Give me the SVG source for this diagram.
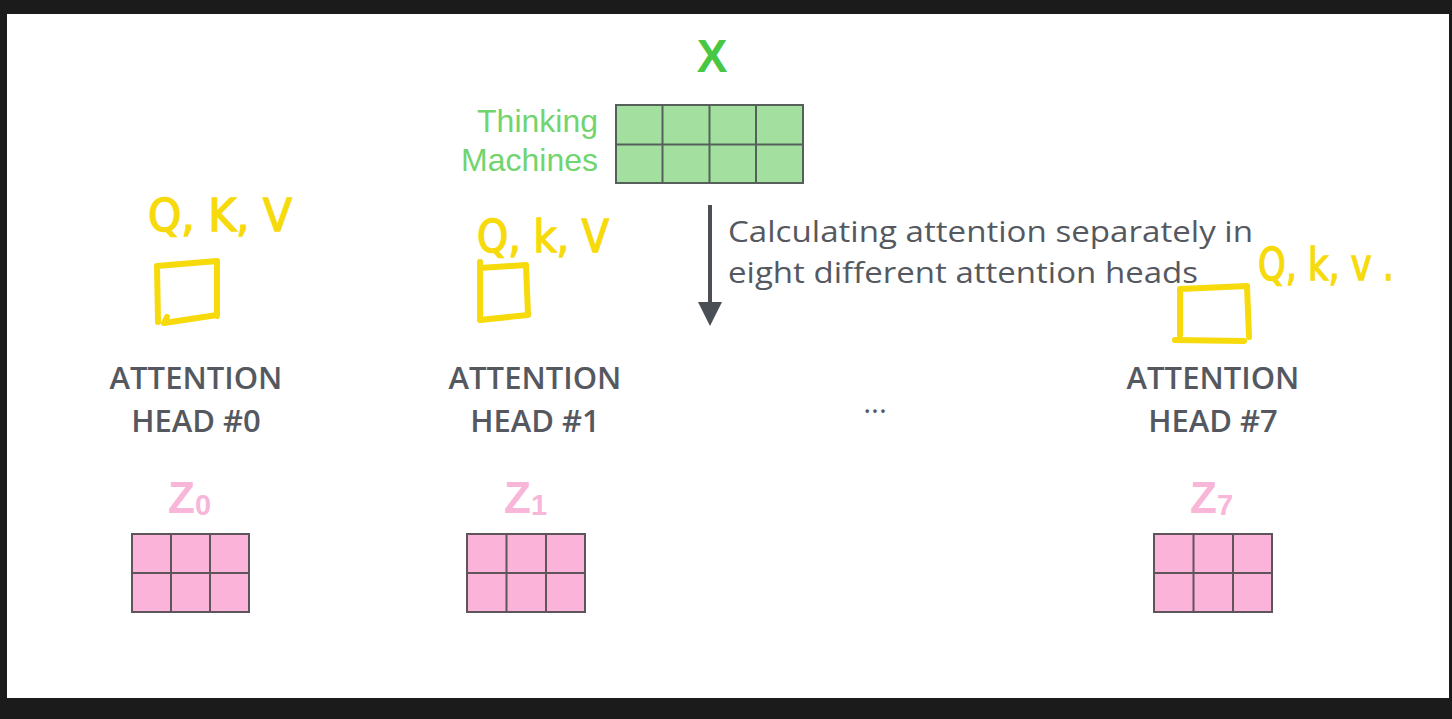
<svg xmlns="http://www.w3.org/2000/svg" width="1452" height="719" viewBox="0 0 1452 719">
<style>
.lbl{font-family:"Open Sans","DejaVu Sans",sans-serif;font-weight:600;font-size:31px;fill:#55595f;text-anchor:middle}
.desc{font-family:"Open Sans","DejaVu Sans",sans-serif;font-weight:500;font-size:29px;fill:#55595f}
.word{font-family:"Liberation Sans",Arial,sans-serif;font-size:32px;fill:#72d46e;text-anchor:end}
.zl{font-family:"Liberation Sans",Arial,sans-serif;font-weight:bold;font-size:44px;fill:#f8b6d8}
.zs{font-size:29px}
.gcell{fill:#a3e09f;stroke:#55605a;stroke-width:2}
.pcell{fill:#fcb3da;stroke:#5e555b;stroke-width:2}
.ink{fill:none;stroke:#f6da0c;stroke-width:6;stroke-linecap:round;stroke-linejoin:round}
.hw{font-family:"DejaVu Sans",sans-serif;font-size:44px;fill:#f6da0c;stroke:#f6da0c;stroke-width:1.5}
</style>
<defs>
<marker id="ah" markerWidth="6" markerHeight="6" refX="5" refY="3" orient="auto" markerUnits="strokeWidth">
<path d="M0,0 L6,3 L0,6 Z" fill="#4a4e55"/>
</marker>
</defs>
<rect x="0" y="0" width="1452" height="719" fill="#1b1b1b"/>
<rect x="7" y="14" width="1442" height="684" fill="#ffffff"/>

<g id="input-x">
<text x="712" y="72" font-family="Liberation Sans, Arial, sans-serif" font-weight="bold" font-size="46" fill="#48c744" text-anchor="middle">X</text>
<text class="word" x="598" y="132">Thinking</text>
<text class="word" x="598" y="171">Machines</text>
<rect class="gcell" x="616" y="105" width="187" height="78"/>
<path d="M662.5,105V183M709.5,105V183M756,105V183M616,144.5H803" stroke="#55605a" stroke-width="2" fill="none"/>
</g>

<g id="connectors">
<line x1="710" y1="205" x2="710" y2="322" stroke="#4a4e55" stroke-width="4" marker-end="url(#ah)"/>
</g>

<g id="description">
<text class="desc" x="728" y="242" textLength="525" lengthAdjust="spacingAndGlyphs">Calculating attention separately in</text>
<text class="desc" x="728" y="283" textLength="470" lengthAdjust="spacingAndGlyphs">eight different attention heads</text>
</g>

<g id="head0">
<text class="hw" x="148" y="231" textLength="144" lengthAdjust="spacingAndGlyphs">Q, K, V</text>
<path class="ink" d="M157,266 L158,322 M157,266 L217,261 L217,316 M167,317 L164,323 L217,315"/>
<text class="lbl" x="196" y="389">ATTENTION</text>
<text class="lbl" x="196" y="432">HEAD #0</text>
<text class="zl" x="168" y="513">Z<tspan class="zs" dy="2">0</tspan></text>
<rect class="pcell" x="132" y="534" width="117" height="78"/>
<path d="M171,534V612M210,534V612M132,573H249" stroke="#5e555b" stroke-width="2" fill="none"/>
</g>

<g id="head1">
<text class="hw" x="477" y="252" textLength="132" lengthAdjust="spacingAndGlyphs">Q, k, V</text>
<path class="ink" d="M480,262 L480,318 M480,268 L526,265 L528,315 L480,320"/>
<text class="lbl" x="535" y="389">ATTENTION</text>
<text class="lbl" x="535" y="432">HEAD #1</text>
<text class="zl" x="504" y="513">Z<tspan class="zs" dy="2">1</tspan></text>
<rect class="pcell" x="467" y="534" width="118" height="78"/>
<path d="M506.5,534V612M546,534V612M467,573H585" stroke="#5e555b" stroke-width="2" fill="none"/>
</g>

<g id="ellipsis">
<text x="875" y="413" font-family="Open Sans, DejaVu Sans, sans-serif" font-size="30" fill="#55595f" text-anchor="middle">...</text>
</g>

<g id="head7">
<text class="hw" x="1258" y="280" textLength="136" lengthAdjust="spacingAndGlyphs">Q, k, v .</text>
<path class="ink" d="M1180,290 L1180,335 M1180,289 L1247,286 L1249,337 M1175,340 L1244,341"/>
<text class="lbl" x="1213" y="389">ATTENTION</text>
<text class="lbl" x="1213" y="432">HEAD #7</text>
<text class="zl" x="1190" y="513">Z<tspan class="zs" dy="2">7</tspan></text>
<rect class="pcell" x="1154" y="534" width="118" height="78"/>
<path d="M1193.5,534V612M1233,534V612M1154,573H1272" stroke="#5e555b" stroke-width="2" fill="none"/>
</g>
</svg>
